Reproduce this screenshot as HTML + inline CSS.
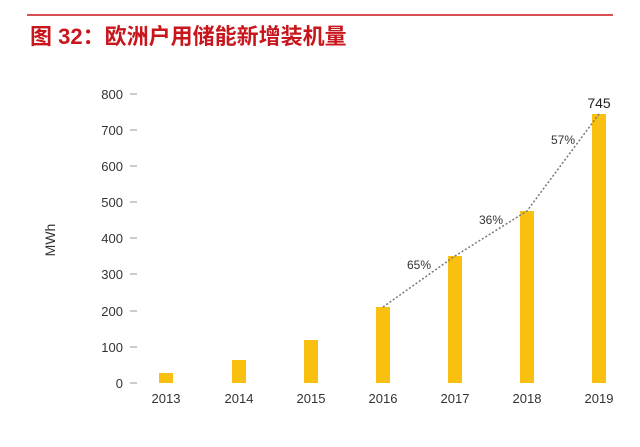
<!DOCTYPE html><html><head><meta charset="utf-8"><style>body{margin:0;background:#fff}svg{display:block}</style></head><body>
<svg width="640" height="447" xmlns="http://www.w3.org/2000/svg" font-family="Liberation Sans, sans-serif">
<line x1="27" y1="15" x2="613" y2="15" stroke="#c8161d" stroke-width="1.5"/>
<text x="30" y="44" font-size="22" fill="#c8161d" font-weight="bold" font-family="Liberation Sans, Noto Sans CJK SC, sans-serif">图 32：欧洲户用储能新增装机量</text>
<g font-size="13" fill="#333" text-anchor="end">
<text x="123" y="99">800</text><text x="123" y="135">700</text><text x="123" y="171">600</text><text x="123" y="207">500</text><text x="123" y="243">400</text><text x="123" y="279">300</text><text x="123" y="316">200</text><text x="123" y="352">100</text><text x="123" y="388">0</text>
</g>
<g stroke="#999" stroke-width="1">
<line x1="130" x2="137" y1="94" y2="94"/><line x1="130" x2="137" y1="130" y2="130"/><line x1="130" x2="137" y1="166" y2="166"/><line x1="130" x2="137" y1="202" y2="202"/><line x1="130" x2="137" y1="238" y2="238"/><line x1="130" x2="137" y1="274" y2="274"/><line x1="130" x2="137" y1="311" y2="311"/><line x1="130" x2="137" y1="347" y2="347"/><line x1="130" x2="137" y1="383" y2="383"/>
</g>
<text x="55" y="240" font-size="14" fill="#333" text-anchor="middle" transform="rotate(-90 55 240)">MWh</text>
<g fill="#f9c00f">
<rect x="159" y="373" width="14" height="10"/><rect x="232" y="360" width="14" height="23"/><rect x="304" y="340" width="14" height="43"/><rect x="376" y="307" width="14" height="76"/><rect x="448" y="256" width="14" height="127"/><rect x="520" y="211" width="14" height="172"/><rect x="592" y="114" width="14" height="269"/>
</g>
<polyline points="383,307 455,256 527,211 599,114" fill="none" stroke="#777" stroke-width="1.5" stroke-dasharray="2,2"/>
<g font-size="12" fill="#333" text-anchor="middle">
<text x="419" y="269">65%</text><text x="491" y="224">36%</text><text x="563" y="144">57%</text>
</g>
<text x="599" y="108" font-size="14" fill="#222" text-anchor="middle">745</text>
<g font-size="13" fill="#333" text-anchor="middle">
<text x="166" y="403">2013</text><text x="239" y="403">2014</text><text x="311" y="403">2015</text><text x="383" y="403">2016</text><text x="455" y="403">2017</text><text x="527" y="403">2018</text><text x="599" y="403">2019</text>
</g>
</svg></body></html>
